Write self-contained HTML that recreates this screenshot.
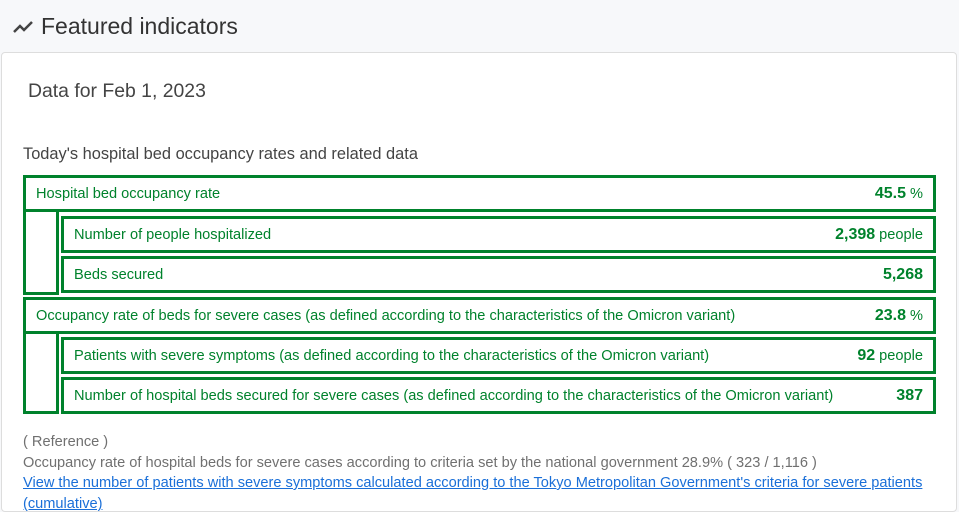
<!DOCTYPE html>
<html><head><meta charset="utf-8"><style>
body{margin:0;width:959px;height:500px;overflow:hidden;background:#f7f8fa;font-family:"Liberation Sans",sans-serif;position:relative}
.abs{position:absolute}
.box{position:absolute;border:3px solid #00822c;box-sizing:border-box;background:#fff}
.lbl{position:absolute;left:10px;top:0;bottom:0;display:flex;align-items:center;font-size:14.6px;color:#00822c;white-space:nowrap}
.val{position:absolute;right:10px;top:0;bottom:0;display:flex;align-items:center;font-size:16px;font-weight:bold;color:#00822c;white-space:nowrap}
.val span{font-weight:normal;font-size:14.6px;margin-left:4px}
.g{color:#707070;font-size:14.6px}
</style></head><body>
<svg class="abs" style="left:12px;top:18px" width="24" height="18"><polyline points="2,14 8,8 12,12 20,4" fill="none" stroke="#444" stroke-width="2.5"/></svg>
<div class="abs" style="left:41px;top:13px;font-size:23px;color:#333">Featured indicators</div>
<div class="abs" style="left:1px;top:52px;width:956px;height:460px;background:#fff;border:1px solid #ddd;border-radius:4px;box-sizing:border-box"></div>
<div class="abs" style="left:28px;top:80px;font-size:19.4px;color:#444">Data for Feb 1, 2023</div>
<div class="abs" style="left:23px;top:145px;font-size:16.4px;color:#444">Today's hospital bed occupancy rates and related data</div>

<div class="box" style="left:23px;top:208px;width:36px;height:87px;border-top:none"></div>
<div class="box" style="left:23px;top:175px;width:913px;height:37px"><div class="lbl">Hospital bed occupancy rate</div><div class="val">45.5<span>%</span></div></div>
<div class="box" style="left:61px;top:216px;width:875px;height:37px"><div class="lbl">Number of people hospitalized</div><div class="val">2,398<span>people</span></div></div>
<div class="box" style="left:61px;top:256px;width:875px;height:37px"><div class="lbl">Beds secured</div><div class="val">5,268</div></div>

<div class="box" style="left:23px;top:330px;width:36px;height:84px;border-top:none"></div>
<div class="box" style="left:23px;top:297px;width:913px;height:37px"><div class="lbl">Occupancy rate of beds for severe cases (as defined according to the characteristics of the Omicron variant)</div><div class="val">23.8<span>%</span></div></div>
<div class="box" style="left:61px;top:337px;width:875px;height:37px"><div class="lbl">Patients with severe symptoms (as defined according to the characteristics of the Omicron variant)</div><div class="val">92<span>people</span></div></div>
<div class="box" style="left:61px;top:377px;width:875px;height:37px"><div class="lbl">Number of hospital beds secured for severe cases (as defined according to the characteristics of the Omicron variant)</div><div class="val">387</div></div>

<div class="abs g" style="left:23px;top:434px">( Reference )</div>
<div class="abs g" style="left:23px;top:455px;white-space:nowrap">Occupancy rate of hospital beds for severe cases according to criteria set by the national government 28.9% ( 323 / 1,116 )</div>
<a class="abs" style="left:23px;top:475px;font-size:14.6px;color:#1a6fd8;text-decoration:underline;white-space:nowrap">View the number of patients with severe symptoms calculated according to the Tokyo Metropolitan Government's criteria for severe patients</a>
<div class="abs" style="left:23px;top:496px;font-size:14.6px;color:#1a6fd8;text-decoration:underline">(cumulative)</div>
</body></html>
